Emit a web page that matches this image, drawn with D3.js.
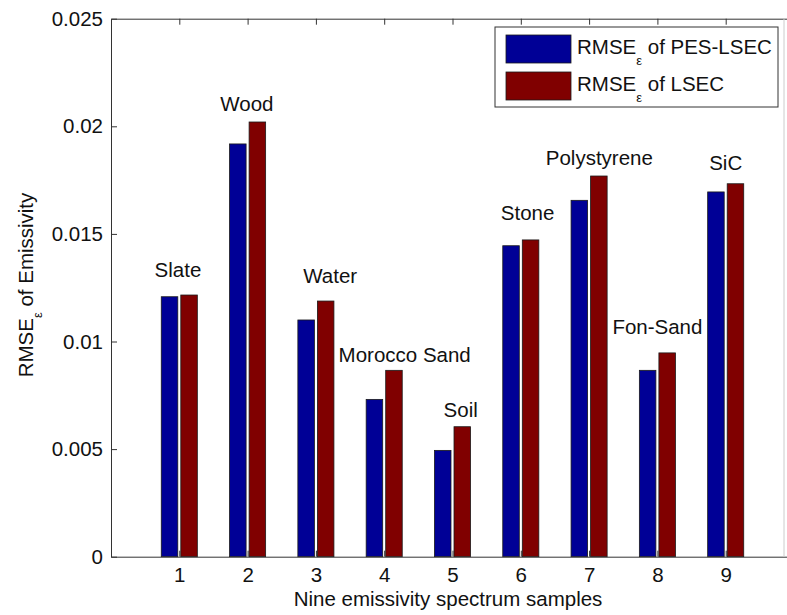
<!DOCTYPE html>
<html><head><meta charset="utf-8">
<script src="https://cdn.jsdelivr.net/npm/d3@7"></script>
<style>body{margin:0;background:#fff;} svg{display:block;} text{font-family:"Liberation Sans",Arial,sans-serif;fill:#111;}</style>
</head><body>
<svg id="chart" width="787" height="615"></svg>
<script>
const categories = [1,2,3,4,5,6,7,8,9];
const sampleNames = ["Slate","Wood","Water","Morocco Sand","Soil","Stone","Polystyrene","Fon-Sand","SiC"];
const rmsePesLsec = [0.01208,0.01918,0.01100,0.00731,0.00494,0.01445,0.01656,0.00866,0.01695];
const rmseLsec    = [0.01216,0.02020,0.01188,0.00866,0.00604,0.01472,0.01769,0.00947,0.01733];
// annotation anchor points (data coords)
const labelX = [0.98,1.99,3.21,4.30,5.12,6.10,7.15,8.00,9.00];
const labelY = [0.0130,0.02071,0.01272,0.00905,0.00650,0.01565,0.01822,0.01035,0.01799];
const yTicks = [0,0.005,0.01,0.015,0.02,0.025];
const yTickLabels = ["0","0.005","0.01","0.015","0.02","0.025"];
const seriesNames = ["of PES-LSEC","of LSEC"];
const colors = ["#000096","#800000"];

const svg = d3.select("#chart");
const L=111, T=18.7, B=556.7, R=794;
const x = d3.scaleLinear().domain([0,10]).range([L,R]);
const y = d3.scaleLinear().domain([0,0.025]).range([B,T]);
const g = svg.append("g");

// bars
const barW = 0.242, gap = 0.022;
const series = [rmsePesLsec, rmseLsec];
series.forEach((vals,si)=>{
  g.selectAll(".b"+si).data(categories).enter().append("rect")
    .attr("x", (c)=> si===0 ? x(c-gap-barW) : x(c+gap))
    .attr("width", x(barW)-x(0))
    .attr("y", (c,i)=>y(vals[i]))
    .attr("height",(c,i)=>y(0)-y(vals[i]))
    .attr("fill",colors[si]).attr("stroke","#1a1a1a").attr("stroke-width",0.8);
});

// axes
const fs = 20.5;
const yAxis = d3.axisLeft(y).tickValues(yTicks).tickFormat((d,i)=>yTickLabels[i]).tickSizeInner(-6).tickSizeOuter(0).tickPadding(8);
const ya = svg.append("g").attr("transform",`translate(${L},0)`).call(yAxis);
const xAxis = d3.axisBottom(x).tickValues(categories).tickFormat(d3.format("d")).tickSizeInner(-6).tickSizeOuter(0).tickPadding(11);
const xa = svg.append("g").attr("transform",`translate(0,${B})`).call(xAxis);
const xTop = d3.axisTop(x).tickValues(categories).tickFormat("").tickSizeInner(-6).tickSizeOuter(0);
const xt = svg.append("g").attr("transform",`translate(0,${T})`).call(xTop);
[ya,xa,xt].forEach(a=>{
  a.selectAll("path").attr("stroke","#333").attr("stroke-width",1);
  a.selectAll("line").attr("stroke","#333").attr("stroke-width",1);
  a.selectAll("text").attr("font-size",fs).attr("font-family","Liberation Sans, Arial, sans-serif").attr("fill","#111");
});
// faint right border
svg.append("line").attr("x1",784).attr("x2",784).attr("y1",T).attr("y2",B).attr("stroke","#ccc").attr("stroke-width",1);

// annotations
svg.selectAll(".lab").data(sampleNames).enter().append("text")
  .attr("x",(d,i)=>x(labelX[i])).attr("y",(d,i)=>y(labelY[i]))
  .attr("text-anchor","middle").attr("font-size",fs).text(d=>d);

// axis labels
svg.append("text").attr("x",448).attr("y",606).attr("text-anchor","middle").attr("font-size",fs)
  .text("Nine emissivity spectrum samples");
const yl = svg.append("text").attr("transform","translate(33,285) rotate(-90)").attr("text-anchor","middle").attr("font-size",fs);
yl.append("tspan").text("RMSE");
yl.append("tspan").attr("font-size",13).attr("dy",9).text("ε");
yl.append("tspan").attr("dy",-9).text(" of Emissivity");

// legend
const lg = svg.append("g");
lg.append("rect").attr("x",495).attr("y",27).attr("width",283).attr("height",80).attr("fill","#fff").attr("stroke","#333").attr("stroke-width",1);
seriesNames.forEach((s,i)=>{
  const yy = 35 + i*37;
  lg.append("rect").attr("x",506).attr("y",yy).attr("width",65).attr("height",28).attr("fill",colors[i]).attr("stroke","#1a1a1a").attr("stroke-width",0.8);
  const t = lg.append("text").attr("x",577).attr("y",yy+19).attr("font-size",fs);
  t.append("tspan").text("RMSE");
  t.append("tspan").attr("font-size",13).attr("dy",11).text("ε");
  t.append("tspan").attr("dy",-11).text(" "+s);
});
</script>
</body></html>
